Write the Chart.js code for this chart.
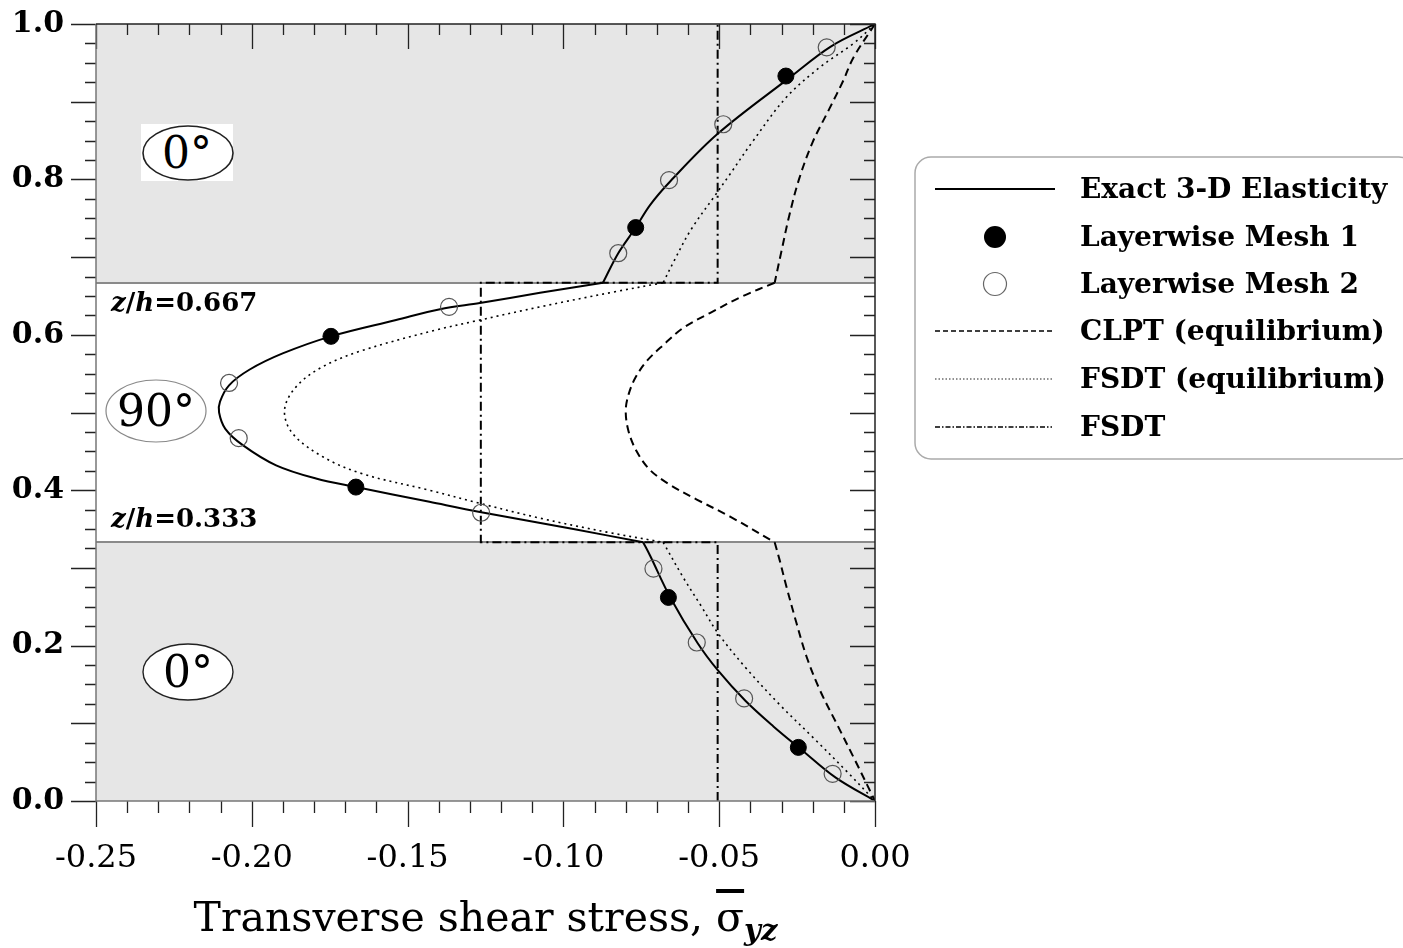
<!DOCTYPE html>
<html>
<head>
<meta charset="utf-8">
<script src="https://cdn.jsdelivr.net/npm/chart.js@4.4.0/dist/chart.umd.min.js"></script>
<style>
body{margin:0;background:#fff;font-family:"DejaVu Serif",serif}
#wrap{position:relative;width:1403px;height:948px;overflow:hidden}
#wrap canvas{position:absolute;left:0;top:0}
.lbl{position:absolute;white-space:nowrap;color:#000}
.lg{position:absolute;left:1080px;font:bold 28px "DejaVu Serif",serif;white-space:nowrap}
svg{position:absolute;left:0;top:0;pointer-events:none}
</style>
</head>
<body>
<div id="wrap">
<canvas id="myChart" width="1403" height="948"></canvas>
<svg width="1403" height="948">
  <rect x="141" y="124" width="92" height="57" fill="#fff"/>
  <ellipse cx="188" cy="153" rx="45" ry="27" fill="#fff" stroke="#222" stroke-width="1.6"/>
  <ellipse cx="188" cy="672" rx="45" ry="28" fill="#fff" stroke="#222" stroke-width="1.4"/>
  <ellipse cx="156" cy="411" rx="50" ry="31" fill="#fff" stroke="#888" stroke-width="1.2"/>
  <rect x="915" y="157" width="500" height="302" rx="16" ry="16" fill="#fff" stroke="#aaa" stroke-width="1.5"/>
  <line x1="935" y1="189" x2="1055" y2="189" stroke="#000" stroke-width="2"/>
  <circle cx="995" cy="237" r="11" fill="#000"/>
  <circle cx="995" cy="284" r="11.5" fill="none" stroke="#666" stroke-width="1.2"/>
  <line x1="935" y1="331" x2="1055" y2="331" stroke="#000" stroke-width="1.5" stroke-dasharray="5,3"/>
  <line x1="935" y1="379" x2="1052" y2="379" stroke="#222" stroke-width="1.2" stroke-dasharray="1.5,2"/>
  <line x1="935" y1="427" x2="1052" y2="427" stroke="#000" stroke-width="1.5" stroke-dasharray="5,2,1.5,2"/>
</svg>
<div class="lbl" style="left:141px;top:124px;width:92px;height:57px;line-height:57px;text-align:center;font-size:44px">0°</div>
<div class="lbl" style="left:143px;top:644px;width:90px;height:56px;line-height:56px;text-align:center;font-size:44px">0°</div>
<div class="lbl" style="left:106px;top:380px;width:100px;height:62px;line-height:62px;text-align:center;font-size:44px">90°</div>
<div class="lbl" style="left:111px;top:287px;font-size:26px;font-weight:bold"><i>z</i>/<i>h</i>=0.667</div>
<div class="lbl" style="left:111px;top:503px;font-size:26px;font-weight:bold"><i>z</i>/<i>h</i>=0.333</div>
<div class="lbl" style="left:0;width:971px;top:893px;text-align:center;font-size:41px">Transverse shear stress, <span style="text-decoration:overline">σ</span><sub style="font-size:29px"><b><i>yz</i></b></sub></div>
<div class="lg" style="top:172px">Exact 3-D Elasticity</div>
<div class="lg" style="top:220px">Layerwise Mesh 1</div>
<div class="lg" style="top:267px">Layerwise Mesh 2</div>
<div class="lg" style="top:314px">CLPT (equilibrium)</div>
<div class="lg" style="top:362px">FSDT (equilibrium)</div>
<div class="lg" style="top:410px">FSDT</div>
</div>
<script>
// layer interfaces (z/h) of the 0/90/0 laminate
let layerBounds=[0,1/3,2/3,1]

// exact 3-D elasticity, one piece per layer
let exactTopX=[-0.0873,-0.0824,-0.0768,-0.0722,-0.0656,-0.0504,-0.0274,-0.0142,0]
let exactTopZ=[0.667,0.705,0.738,0.767,0.798,0.859,0.931,0.971,1.0]
let exactMidX=[-0.0873,-0.1075,-0.1268,-0.1396,-0.1537,-0.1746,-0.1901,-0.2008,-0.2073,-0.2102,-0.2105,-0.2085,-0.2029,-0.1922,-0.1794,-0.1666,-0.143,-0.1268,-0.0968,-0.0744]
let exactMidZ=[0.667,0.654,0.641,0.633,0.619,0.598,0.576,0.555,0.535,0.514,0.500,0.479,0.458,0.432,0.415,0.404,0.385,0.372,0.350,0.333]
let exactBotX=[-0.0744,-0.0722,-0.0657,-0.0569,-0.0504,-0.0416,-0.0326,-0.0236,-0.0126,0]
let exactBotZ=[0.333,0.316,0.262,0.203,0.168,0.129,0.096,0.066,0.030,0]

// CLPT (equilibrium)
let clptTopX=[0,-0.0069,-0.0102,-0.0145,-0.020,-0.0244,-0.0276,-0.0300,-0.0322]
let clptTopZ=[1.0,0.957,0.927,0.892,0.848,0.800,0.752,0.708,0.667]
let clptMidX=[-0.0322,-0.0423,-0.053,-0.0615,-0.0679,-0.0733,-0.0770,-0.0791,-0.080,-0.0791,-0.0765,-0.0722,-0.0658,-0.0572,-0.0465,-0.0322]
let clptMidZ=[0.667,0.650,0.628,0.609,0.587,0.566,0.544,0.523,0.502,0.476,0.450,0.426,0.407,0.388,0.366,0.333]
let clptBotX=[-0.0322,-0.0306,-0.0285,-0.0252,-0.0219,-0.0176,-0.0121,-0.0066,0]
let clptBotZ=[0.333,0.310,0.277,0.229,0.185,0.142,0.098,0.054,0]

// FSDT (equilibrium)
let fsdtEqTopX=[0,-0.0069,-0.0178,-0.0286,-0.0394,-0.047,-0.0514,-0.0591,-0.0645,-0.068]
let fsdtEqTopZ=[1.0,0.975,0.944,0.905,0.848,0.804,0.779,0.735,0.695,0.667]
let fsdtEqMidX=[-0.068,-0.084,-0.1075,-0.1268,-0.141,-0.1644,-0.1772,-0.1858,-0.1895,-0.1869,-0.1772,-0.1644,-0.143,-0.1268,-0.1075,-0.086,-0.068]
let fsdtEqMidZ=[0.667,0.655,0.636,0.619,0.606,0.580,0.559,0.533,0.503,0.473,0.443,0.421,0.400,0.383,0.364,0.346,0.333]
let fsdtEqBotX=[-0.068,-0.0613,-0.0558,-0.0504,-0.0416,-0.0306,-0.0197,-0.0088,0]
let fsdtEqBotZ=[0.333,0.286,0.251,0.216,0.172,0.124,0.081,0.037,0]

// FSDT (constitutive), constant in each layer
let fsdtX=[-0.0505,-0.0505,-0.1265,-0.1265,-0.0505,-0.0505]
let fsdtZ=[0,0.333,0.333,0.667,0.667,1.0]

// layerwise finite elements
let mesh1X=[-0.0246,-0.0663,-0.1666,-0.1746,-0.0768,-0.0286]
let mesh1Z=[0.069,0.262,0.404,0.598,0.738,0.933]
let mesh2X=[-0.0136,-0.042,-0.0572,-0.0711,-0.1264,-0.2042,-0.2073,-0.1367,-0.0824,-0.0661,-0.0487,-0.0155]
let mesh2Z=[0.035,0.132,0.204,0.299,0.371,0.467,0.538,0.636,0.705,0.799,0.871,0.970]

let xTicks=[-0.25,-0.20,-0.15,-0.10,-0.05,0.00]
let zTicks=[0,0.2,0.4,0.6,0.8,1.0]

function pts(xs,zs){
  return xs.map((x,i)=>({x:x,y:zs[i]}))
}
function curve(xs,zs,dash,width,tension){
  return {data:pts(xs,zs),showLine:true,pointRadius:0,borderColor:'#000',
    borderWidth:width,borderDash:dash,tension:tension,fill:false,order:2}
}

let bands={
  id:'bands',
  beforeDatasetsDraw(chart){
    let ctx=chart.ctx, a=chart.chartArea, ys=chart.scales.y
    ctx.save()
    ctx.fillStyle='#e6e6e6'
    ;[[layerBounds[0],layerBounds[1]],[layerBounds[2],layerBounds[3]]].forEach(b=>{
      let y1=ys.getPixelForValue(b[1]), y0=ys.getPixelForValue(b[0])
      ctx.fillRect(a.left,y1,a.right-a.left,y0-y1)
    })
    ctx.strokeStyle='#8a8a8a'
    ctx.lineWidth=2
    ;[layerBounds[1],layerBounds[2]].forEach(v=>{
      let y=Math.round(ys.getPixelForValue(v))
      ctx.beginPath();ctx.moveTo(a.left,y);ctx.lineTo(a.right,y);ctx.stroke()
    })
    ctx.restore()
  },
  afterDraw(chart){
    let ctx=chart.ctx, a=chart.chartArea, xs=chart.scales.x, ys=chart.scales.y
    ctx.save()
    ctx.lineWidth=1.3
    ctx.strokeStyle='#222'
    for(let i=0;i<=25;i++){
      let px=Math.round(xs.getPixelForValue(-0.25+i*0.01))+0.5
      let major=i%5==0
      ctx.beginPath()
      ctx.moveTo(px,a.bottom);ctx.lineTo(px,a.bottom+(major?26:12))
      ctx.moveTo(px,a.top);ctx.lineTo(px,a.top+(major?25:11))
      ctx.stroke()
    }
    for(let i=0;i<=40;i++){
      let py=Math.round(ys.getPixelForValue(i*0.025))+0.5
      let major=i%4==0
      ctx.beginPath()
      ctx.moveTo(a.left-(major?25:11),py);ctx.lineTo(a.left,py)
      ctx.moveTo(a.right-(major?25:11),py);ctx.lineTo(a.right,py)
      ctx.stroke()
    }
    ctx.lineWidth=1.5
    ctx.strokeStyle='#777'
    ctx.beginPath();ctx.moveTo(a.left,a.top);ctx.lineTo(a.left,a.bottom);ctx.lineTo(a.right,a.bottom);ctx.stroke()
    ctx.strokeStyle='#222'
    ctx.beginPath();ctx.moveTo(a.left,a.top);ctx.lineTo(a.right,a.top);ctx.lineTo(a.right,a.bottom);ctx.stroke()
    ctx.restore()
  }
}

let ctx=document.getElementById("myChart").getContext("2d")
let myChart=new Chart(ctx,{
  type:'scatter',
  data:{
    datasets:[
      {label:'Layerwise Mesh 1',data:pts(mesh1X,mesh1Z),pointRadius:8,pointBackgroundColor:'#000',pointBorderColor:'#000',order:0},
      {label:'Layerwise Mesh 2',data:pts(mesh2X,mesh2Z),pointRadius:8.5,pointBackgroundColor:'rgba(0,0,0,0)',pointBorderColor:'#555',pointBorderWidth:1.2,order:0},
      curve(exactTopX,exactTopZ,[],2,0.35),
      curve(exactMidX,exactMidZ,[],2,0.35),
      curve(exactBotX,exactBotZ,[],2,0.35),
      curve(clptTopX,clptTopZ,[8,5],2,0.35),
      curve(clptMidX,clptMidZ,[8,5],2,0.35),
      curve(clptBotX,clptBotZ,[8,5],2,0.35),
      curve(fsdtEqTopX,fsdtEqTopZ,[2,4],1.6,0.35),
      curve(fsdtEqMidX,fsdtEqMidZ,[2,4],1.6,0.35),
      curve(fsdtEqBotX,fsdtEqBotZ,[2,4],1.6,0.35),
      curve(fsdtX,fsdtZ,[9,4,2,4],2,0)
    ]
  },
  options:{
    responsive:false,
    animation:false,
    events:[],
    layout:{padding:{left:0,top:24,right:528,bottom:0}},
    plugins:{legend:{display:false},tooltip:{enabled:false}},
    scales:{
      x:{
        type:'linear',min:-0.25,max:0,
        afterFit(s){s.height=147;s.paddingLeft=0;s.paddingRight=0},
        afterBuildTicks(s){s.ticks=xTicks.map(v=>({value:v}))},
        grid:{display:false,drawTicks:false},
        border:{display:false},
        ticks:{padding:38,color:'#000',font:{family:'DejaVu Serif',size:32},callback:v=>v.toFixed(2)}
      },
      y:{
        type:'linear',min:0,max:1,
        afterFit(s){s.width=96;s.paddingTop=0;s.paddingBottom=0},
        afterBuildTicks(s){s.ticks=zTicks.map(v=>({value:v}))},
        grid:{display:false,drawTicks:false},
        border:{display:false},
        ticks:{padding:32,color:'#000',font:{family:'DejaVu Serif',size:30,weight:'bold'},callback:v=>v.toFixed(1)}
      }
    }
  },
  plugins:[bands]
})
</script>
</body>
</html>
